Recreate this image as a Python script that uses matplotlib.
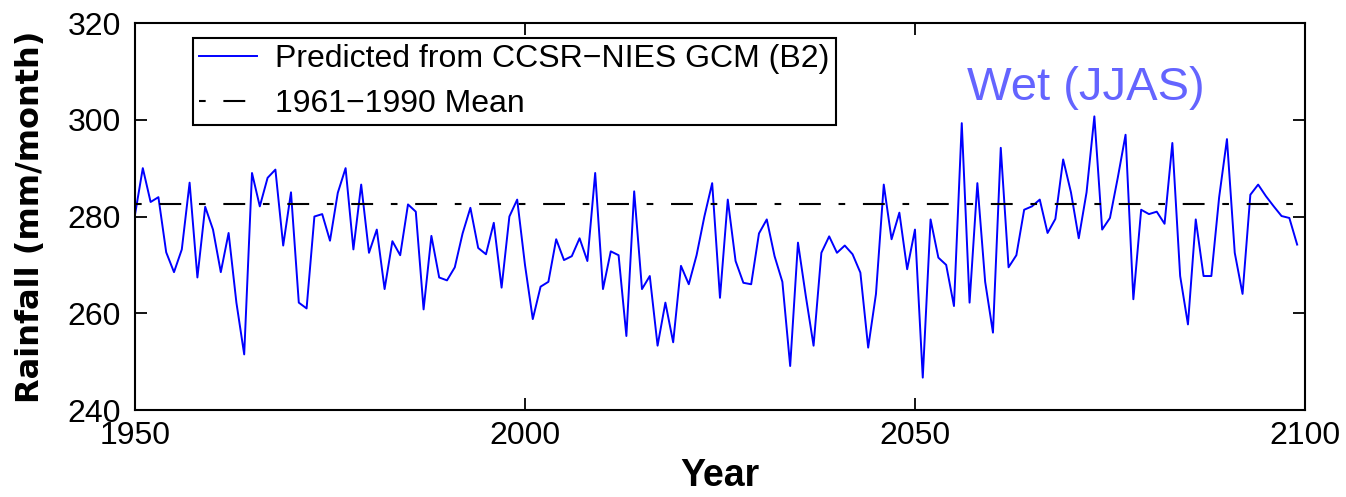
import numpy as np
import matplotlib
matplotlib.use('Agg')
import matplotlib.pyplot as plt

# annual rainfall, 1950..2099
years = np.arange(1950, 2100)
rain = [
    280.4, 290.0, 283.0, 284.0, 272.6, 268.5, 273.2, 287.0, 267.4, 282.0,
    277.3, 268.5, 276.6, 262.2, 251.5, 289.0, 282.1, 288.0, 289.7, 274.0,
    285.0, 262.2, 261.0, 280.0, 280.5, 275.0, 284.9, 290.0, 273.2, 286.6,
    272.5, 277.3, 265.0, 274.9, 272.0, 282.5, 281.0, 260.8, 276.0, 267.4,
    266.8, 269.5, 276.5, 281.8, 273.5, 272.2, 278.7, 265.3, 280.0, 283.5,
    270.0, 258.8, 265.5, 266.5, 275.3, 271.0, 271.8, 275.5, 270.8, 289.0,
    265.0, 272.8, 272.0, 255.3, 285.2, 265.0, 267.7, 253.3, 262.2, 254.0,
    269.8, 266.0, 272.0, 280.0, 286.9, 263.2, 283.5, 270.8, 266.3, 266.0,
    276.5, 279.4, 271.8, 266.5, 249.1, 274.6, 263.6, 253.3, 272.5, 275.9,
    272.5, 274.0, 272.2, 268.4, 252.9, 264.0, 286.6, 275.3, 280.8, 269.1,
    277.3, 246.7, 279.4, 271.5, 270.0, 261.5, 299.3, 262.2, 286.9, 266.5,
    256.0, 294.2, 269.5, 272.0, 281.4, 282.1, 283.5, 276.6, 279.5, 291.8,
    285.0, 275.5, 285.0, 300.7, 277.3, 279.7, 288.0, 296.9, 262.9, 281.4,
    280.5, 281.0, 278.5, 295.2, 267.7, 257.7, 279.4, 267.7, 267.7, 284.0,
    296.0, 272.5, 264.0, 284.5, 286.6, 284.2, 282.1, 280.1, 279.7, 274.2,
]
mean_1961_1990 = 282.6
mean_span = [1950, 2100]

xticks = [1950, 2000, 2050, 2100]
yticks = [240, 260, 280, 300, 320]

label_series = 'Predicted from CCSR\u2212NIES GCM (B2)'
label_mean = '1961\u22121990 Mean'

fig = plt.figure(figsize=(13.46, 4.97), dpi=100)
ax = fig.add_axes([0.1003, 0.175, 0.8692, 0.7787])

ax.plot(years, rain, color='#0000ff', linewidth=1.4, label=label_series)
# matlab style '-.' : start on the dot so the legend shows . - .
ax.plot(mean_span, [mean_1961_1990, mean_1961_1990], color='black', linewidth=1.5,
        linestyle=(19, (10.5, 8.5, 3.2, 8.5)), label=label_mean)

ax.set_xlim(1950, 2100)
ax.set_ylim(240, 320)
ax.set_xticks(xticks)
ax.set_yticks(yticks)
ax.tick_params(direction='in', length=8.5, width=1.3, top=True, right=True,
               labelsize=23, colors='black')
ax.tick_params(axis='y', pad=10)
ax.tick_params(axis='x', pad=8)
for lab in ax.get_xticklabels() + ax.get_yticklabels():
    lab.set_family('Liberation Sans')
for sp in ax.spines.values():
    sp.set_linewidth(1.5)

ax.set_ylabel('Rainfall (mm/month)', family='DejaVu Sans', fontweight='bold', fontsize=23)
ax.yaxis.set_label_coords(-0.0897, 0.5)
ax.yaxis.label.set_va('center')
ax.set_xlabel('Year', family='Liberation Sans', fontweight='bold', fontsize=27)
ax.xaxis.set_label_coords(0.5, -0.17)
ax.xaxis.label.set_va('center')

leg = ax.legend(loc='upper left', bbox_to_anchor=(0.0496, 0.961), borderaxespad=0,
                prop={'family': 'Liberation Sans', 'size': 23},
                handlelength=1.8, handletextpad=0.56, borderpad=0.2,
                labelspacing=0.45, fancybox=False, framealpha=1, edgecolor='black')
leg.get_frame().set_linewidth(1.5)

ax.text(2056.7, 304.1, 'Wet (JJAS)', color='#6464ff', fontsize=34,
        family='Liberation Sans', ha='left', va='baseline')

plt.savefig('out.png', dpi=100)
